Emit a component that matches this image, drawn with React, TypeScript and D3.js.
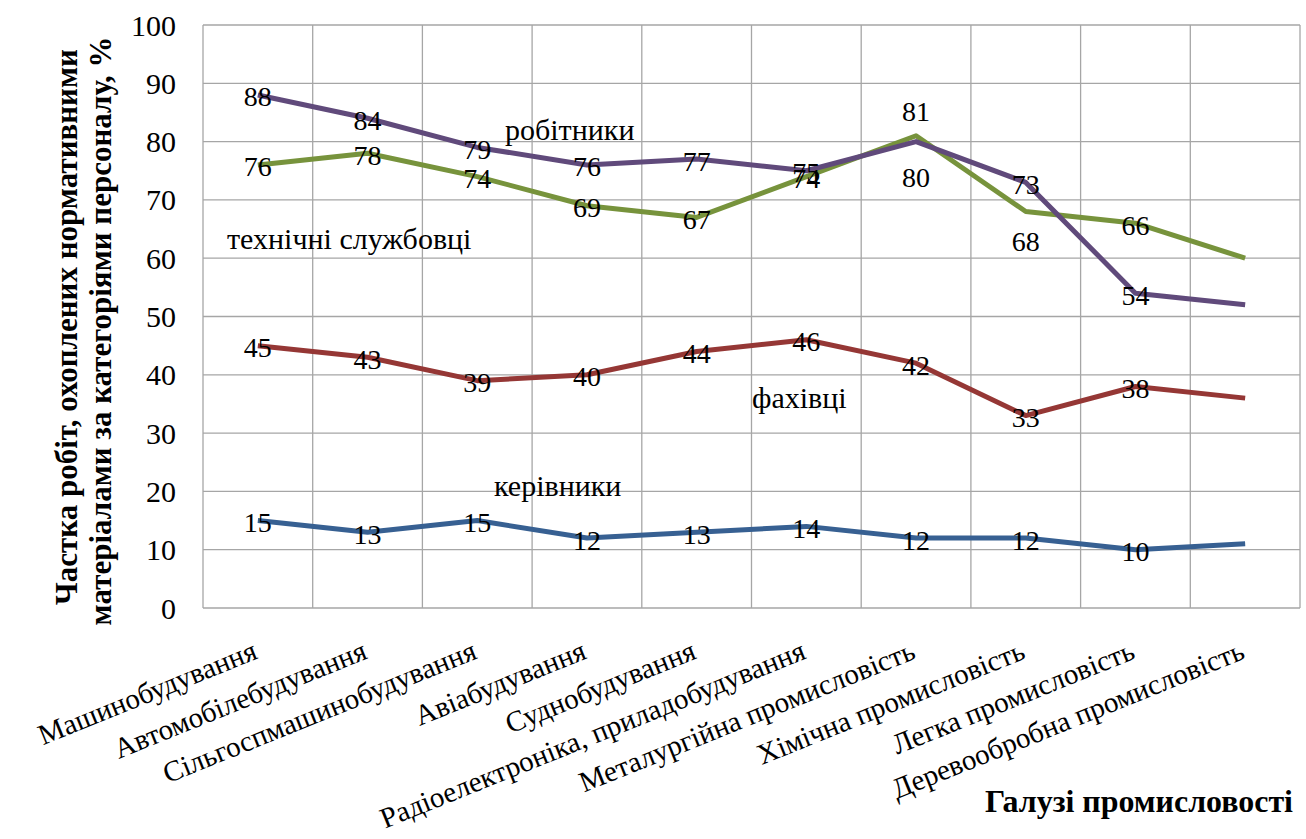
import React from "react";
import * as d3 from "d3";

const categories = [
  "Машинобудування",
  "Автомобілебудування",
  "Сільгоспмашинобудування",
  "Авіабудування",
  "Суднобудування",
  "Радіоелектроніка, приладобудування",
  "Металургійна промисловість",
  "Хімічна промисловість",
  "Легка промисловість",
  "Деревообробна промисловість",
];

const workers = [88, 84, 79, 76, 77, 75, 80, 73, 54, 52];
const techStaff = [76, 78, 74, 69, 67, 74, 81, 68, 66, 60];
const specialists = [45, 43, 39, 40, 44, 46, 42, 33, 38, 36];
const managers = [15, 13, 15, 12, 13, 14, 12, 12, 10, 11];

const yTicks = [0, 10, 20, 30, 40, 50, 60, 70, 80, 90, 100];

const seriesNames = ["робітники", "технічні службовці", "фахівці", "керівники"];

const W = 1306;
const H = 839;
const plot = { left: 203, right: 1300, top: 25, bottom: 608 };
const S = { fontFamily: '"Liberation Serif"' };

export default function App() {
  const x = d3.scaleBand<string>().domain(categories).range([plot.left, plot.right]).padding(0);
  const y = d3.scaleLinear().domain([0, 100]).range([plot.bottom, plot.top]);
  const cx = (i: number) => (x(categories[i]) as number) + x.bandwidth() / 2;
  const line = d3
    .line<number>()
    .x((_, i) => cx(i))
    .y((d) => y(d));

  const series = [
    { name: seriesNames[3], values: managers, color: "#376092", labelOffsets: [] as number[] },
    { name: seriesNames[2], values: specialists, color: "#953735", labelOffsets: [] as number[] },
    { name: seriesNames[1], values: techStaff, color: "#77933c", labelOffsets: [0, 0, 0, 0, 0, 0, -26, 28, 0] },
    { name: seriesNames[0], values: workers, color: "#604a7b", labelOffsets: [0, 0, 0, 0, 0, 0, 34, 0, 0] },
  ];

  const gridX = categories.map((c) => x(c) as number).concat([plot.right]);

  const seriesLabelPos = [
    { text: seriesNames[0], x: 505, y: 140 },
    { text: seriesNames[1], x: 227, y: 249 },
    { text: seriesNames[2], x: 752, y: 408 },
    { text: seriesNames[3], x: 494, y: 496 },
  ];

  return (
    <svg width={W} height={H} style={{ display: "block", position: "absolute", left: 0, top: 0, background: "#fff" }}>
      <rect x={0} y={0} width={W} height={H} fill="#fff" />
      {/* grid */}
      <g stroke="#a6a6a6" strokeWidth={1.3}>
        {yTicks.map((t) => (
          <line key={"h" + t} x1={plot.left} x2={plot.right} y1={y(t)} y2={y(t)} />
        ))}
        {gridX.map((gx, i) => (
          <line key={"v" + i} x1={gx} x2={gx} y1={plot.top} y2={plot.bottom} />
        ))}
      </g>
      {/* y tick labels */}
      {yTicks.map((t) => (
        <text key={"yt" + t} x={176} y={y(t)} dominantBaseline="central" style={S} fontSize={30} textAnchor="end" fill="#000">
          {t}
        </text>
      ))}
      {/* y axis title */}
      <text transform={`translate(77,327) rotate(-90)`} style={S} fontSize={31} fontWeight="bold" textAnchor="middle" fill="#000">
        Частка робіт, охоплених нормативними
      </text>
      <text transform={`translate(111,331) rotate(-90)`} style={S} fontSize={31} fontWeight="bold" textAnchor="middle" fill="#000">
        матеріалами за категоріями персоналу, %
      </text>
      {/* lines */}
      {series.map((s) => (
        <path key={s.name} d={line(s.values) as string} fill="none" stroke={s.color} strokeWidth={5} strokeLinejoin="round" />
      ))}
      {/* data labels */}
      {series.map((s) =>
        s.values.slice(0, 9).map((v, i) => (
          <text
            key={s.name + i}
            x={cx(i)}
            y={y(v) + 2 + (s.labelOffsets[i] || 0)}
            dominantBaseline="central"
            style={S}
            fontSize={28}
            textAnchor="middle"
            fill="#000"
          >
            {v}
          </text>
        ))
      )}
      {/* series name labels */}
      {seriesLabelPos.map((l) => (
        <text key={l.text} x={l.x} y={l.y} style={S} fontSize={30} fill="#000">
          {l.text}
        </text>
      ))}
      {/* category labels */}
      {categories.map((c, i) => (
        <text
          key={c}
          transform={`translate(${cx(i) + 1},${plot.bottom + 50}) rotate(-22)`}
          style={S}
          fontSize={29}
          textAnchor="end"
          fill="#000"
        >
          {c}
        </text>
      ))}
      {/* x axis title */}
      <text
        x={1293}
        y={812}
        style={S}
        fontSize={31}
        fontWeight="bold"
        textAnchor="end"
        fill="#000"
        textLength={308}
        lengthAdjust="spacingAndGlyphs"
      >
        Галузі промисловості
      </text>
    </svg>
  );
}
